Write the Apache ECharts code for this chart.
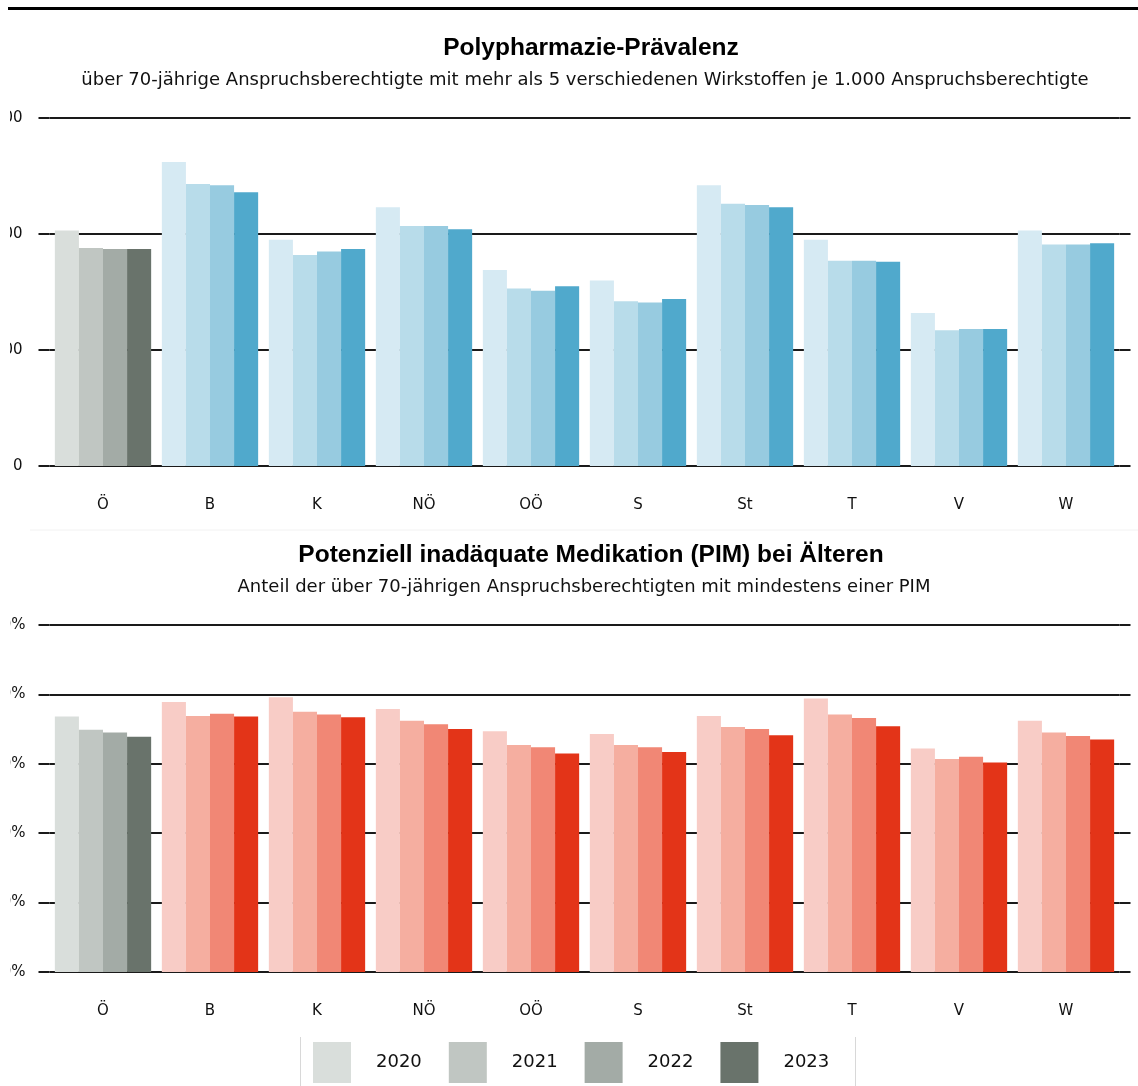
<!DOCTYPE html>
<html>
<head>
<meta charset="utf-8">
<script src="https://cdn.jsdelivr.net/npm/echarts@6/dist/echarts.min.js"></script>
<style>
  html, body { margin: 0; padding: 0; background: #fff; }
  #chart { width: 1138px; height: 1086px; }
</style>
</head>
<body>
<div id="chart"></div>
<script>
// Bundesländer (Ö = Österreich gesamt)
var regions = ["Ö", "B", "K", "NÖ", "OÖ", "S", "St", "T", "V", "W"];
var years = ["2020", "2021", "2022", "2023"];

// Polypharmazie je 1.000 Anspruchsberechtigte
var poly2020 = [203, 262, 195, 223, 169, 160, 242, 195, 132, 203];
var poly2021 = [188, 243, 182, 207, 153, 142, 226, 177, 117, 191];
var poly2022 = [187, 242, 185, 207, 151, 141, 225, 177, 118, 191];
var poly2023 = [187, 236, 187, 204, 155, 144, 223, 176, 118, 192];

// PIM-Anteil in %
var pim2020 = [36.8, 38.9, 39.6, 37.9, 34.7, 34.3, 36.9, 39.4, 32.2, 36.2];
var pim2021 = [34.9, 36.9, 37.5, 36.2, 32.7, 32.7, 35.3, 37.1, 30.7, 34.5];
var pim2022 = [34.5, 37.2, 37.1, 35.7, 32.4, 32.4, 35.0, 36.6, 31.0, 34.0];
var pim2023 = [33.9, 36.8, 36.7, 35.0, 31.5, 31.7, 34.1, 35.4, 30.2, 33.5];

var polyTicks = { min: 0, max: 300, interval: 100 };
var pimTicks = { min: 0, max: 50, interval: 10 };

var grays = ["#d9dedb", "#c0c6c2", "#a3aba6", "#69736b"];
var blues = ["#d6eaf3", "#b8dcea", "#97cbe0", "#50a9cc"];
var reds = ["#f8ccc6", "#f5aea0", "#f18775", "#e33418"];

var lineCol = "#1a1a1a";
var labelFont = "'DejaVu Sans', 'Noto Sans', sans-serif";
var titleFont = "'Liberation Sans', Arial, sans-serif";

function makeSeries(values, idx, palette, axisIdx) {
  return {
    name: years[idx],
    type: "bar",
    xAxisIndex: axisIdx,
    yAxisIndex: axisIdx * 2,
    barGap: 0,
    barCategoryGap: "10%",
    itemStyle: { color: grays[idx] },
    data: values.map(function (v, i) {
      return i === 0 ? v : { value: v, itemStyle: { color: palette[idx] } };
    })
  };
}

function yAxes(gridIdx, ticks, fmt, margin) {
  var common = {
    type: "value",
    gridIndex: gridIdx,
    min: ticks.min,
    max: ticks.max,
    interval: ticks.interval,
    axisLine: { show: false }
  };
  return [
    Object.assign({}, common, {
      position: "left",
      axisTick: { show: true, length: 11, lineStyle: { color: lineCol, width: 2 } },
      axisLabel: { margin: margin, color: "#111", fontSize: 15, fontFamily: labelFont, formatter: fmt },
      splitLine: { show: true, lineStyle: { color: lineCol, width: 2 } }
    }),
    Object.assign({}, common, {
      position: "right",
      axisTick: { show: true, length: 11, lineStyle: { color: lineCol, width: 2 } },
      axisLabel: { show: false },
      splitLine: { show: false }
    })
  ];
}

function xAxis(gridIdx) {
  return {
    type: "category",
    gridIndex: gridIdx,
    data: regions,
    axisLine: { show: false },
    axisTick: { show: false },
    axisLabel: { margin: 32, color: "#111", fontSize: 15, fontFamily: labelFont }
  };
}

function heading(text, x, y, size, bold, font) {
  return {
    text: text, left: x, top: y, padding: 0, textAlign: "center",
    textStyle: { fontFamily: font, fontWeight: bold ? "bold" : "normal", fontSize: size, color: bold ? "#000" : "#111" }
  };
}

var chart = echarts.init(document.getElementById("chart"));
chart.setOption({
  animation: false,
  backgroundColor: "#fff",
  title: [
    heading("Polypharmazie-Prävalenz", 591, 36, 24.5, true, titleFont),
    heading("über 70-jährige Anspruchsberechtigte mit mehr als 5 verschiedenen Wirkstoffen je 1.000 Anspruchsberechtigte", 585, 71, 18, false, labelFont),
    heading("Potenziell inadäquate Medikation (PIM) bei Älteren", 591, 543, 24.5, true, titleFont),
    heading("Anteil der über 70-jährigen Anspruchsberechtigten mit mindestens einer PIM", 584, 578, 18, false, labelFont)
  ],
  legend: {
    data: years,
    left: 313,
    top: 1042,
    padding: 0,
    icon: "rect",
    itemWidth: 38,
    itemHeight: 41,
    itemGap: 27,
    textStyle: { fontSize: 18, color: "#111", fontFamily: labelFont, padding: [0, 0, 0, 20] }
  },
  grid: [
    { left: 49.5, right: 18.5, top: 118, height: 348, outerBoundsMode: "none" },
    { left: 49.5, right: 18.5, top: 625, height: 347, outerBoundsMode: "none" }
  ],
  xAxis: [xAxis(0), xAxis(1)],
  yAxis: yAxes(0, polyTicks, "{value}", 27).concat(yAxes(1, pimTicks, "{value}%", 24)),
  series: [
    makeSeries(poly2020, 0, blues, 0),
    makeSeries(poly2021, 1, blues, 0),
    makeSeries(poly2022, 2, blues, 0),
    makeSeries(poly2023, 3, blues, 0),
    makeSeries(pim2020, 0, reds, 1),
    makeSeries(pim2021, 1, reds, 1),
    makeSeries(pim2022, 2, reds, 1),
    makeSeries(pim2023, 3, reds, 1)
  ],
  graphic: [
    // the source image is cropped at the left, cutting into the tick labels
    { type: "rect", z: 100, shape: { x: 0, y: 100, width: 10, height: 900 }, style: { fill: "#fff" } },
    { type: "rect", shape: { x: 8, y: 7, width: 1130, height: 3 }, style: { fill: "#000" } },
    { type: "line", shape: { x1: 30, y1: 530, x2: 1138, y2: 530 }, style: { stroke: "#f2f2f2", lineWidth: 1 } },
    { type: "line", shape: { x1: 300.5, y1: 1037, x2: 300.5, y2: 1086 }, style: { stroke: "#d8d8d8", lineWidth: 1 } },
    { type: "line", shape: { x1: 855.5, y1: 1037, x2: 855.5, y2: 1086 }, style: { stroke: "#d8d8d8", lineWidth: 1 } }
  ]
});
</script>
</body>
</html>
